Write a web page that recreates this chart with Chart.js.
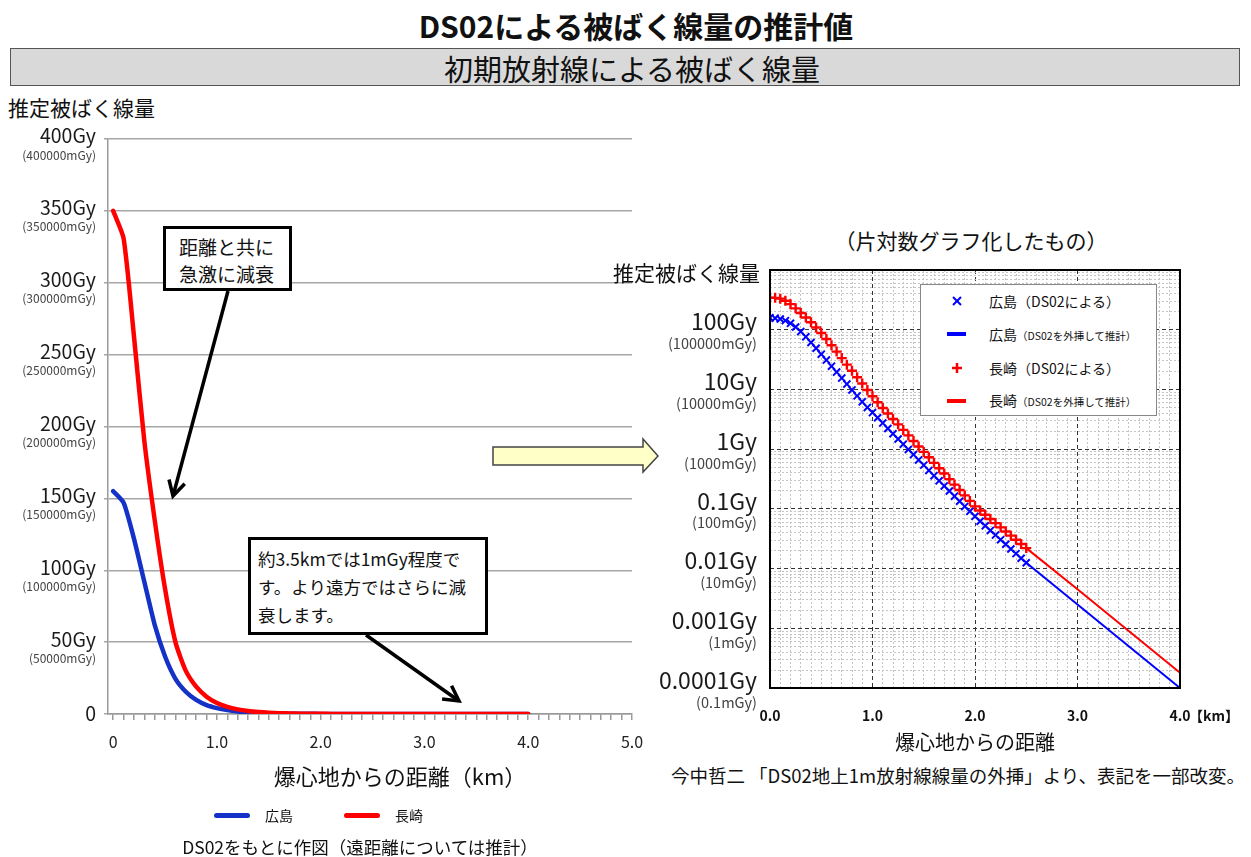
<!DOCTYPE html>
<html lang="ja">
<head>
<meta charset="utf-8">
<title>DS02による被ばく線量の推計値</title>
<script src="https://cdn.jsdelivr.net/npm/chart.js@4.4.1/dist/chart.umd.min.js"></script>
<style>
  html, body { margin: 0; padding: 0; background: #fff; }
  body {
    width: 1251px; height: 857px; position: relative; overflow: hidden;
    font-family: "Noto Sans CJK JP", "Noto Sans", sans-serif; color: #111;
  }
  .t { position: absolute; white-space: nowrap; line-height: 1; }
  .c { transform: translate(-50%, -50%); }
  .l { transform: translate(0, -50%); }
  canvas { position: absolute; }
  #banner {
    position: absolute; left: 10px; top: 48px; width: 1230px; height: 38px;
    box-sizing: border-box; background: #d9d9d9; border: 1.5px solid #555;
  }
  .note {
    position: absolute; box-sizing: border-box; background: #fff;
    border: 3px solid #000; font-size: 19px; line-height: 27px; color: #111;
  }
  .legend-line { position: absolute; height: 5px; border-radius: 3px; }
  #logLegend {
    position: absolute; left: 920px; top: 284px; width: 237px; height: 132px;
    box-sizing: border-box; background: #fff; border: 1px solid #888;
  }
  #overlay { position: absolute; left: 0; top: 0; pointer-events: none; }
</style>
</head>
<body>

<div class="t c" style="left:636px; top:25px; font-size:30px; font-weight:bold;">DS02による被ばく線量の推計値</div>
<div id="banner"></div>
<div class="t c" style="left:632px; top:68px; font-size:29px;">初期放射線による被ばく線量</div>

<div class="t l" style="left:8px; top:107px; font-size:21px;">推定被ばく線量</div>

<canvas id="linChart" width="650" height="640" style="left:0px; top:120px;"></canvas>

<div class="t c" style="left:400px; top:775px; font-size:22px;">爆心地からの距離（km）</div>
<div class="legend-line" style="left:214px; top:813px; width:36px; background:#1432c8;"></div>
<div class="t l" style="left:265px; top:815px; font-size:14px;">広島</div>
<div class="legend-line" style="left:344px; top:813px; width:36px; background:#ff0000;"></div>
<div class="t l" style="left:395px; top:815px; font-size:14px;">長崎</div>
<div class="t c" style="left:360px; top:847px; font-size:17.5px;">DS02をもとに作図（遠距離については推計）</div>

<div class="note" style="left:163px; top:226px; width:129px; height:65px; padding:4px 0 0 13px;">距離と共に<br>急激に減衰</div>
<div class="note" style="left:248px; top:537px; width:240px; height:98px; padding:5px 0 0 7px; font-size:17.5px; line-height:28px;">約3.5kmでは1mGy程度で<br>す。より遠方ではさらに減<br>衰します。</div>

<div class="t c" style="left:971px; top:240px; font-size:21px;">（片対数グラフ化したもの）</div>
<div class="t l" style="left:613px; top:272px; font-size:21px;">推定被ばく線量</div>

<canvas id="logChart" width="640" height="480" style="left:600px; top:250px;"></canvas>

<div id="logLegend"></div>
<div class="t l" style="left:989px; top:301px; font-size:14px;">広島（DS02による）</div>
<div class="t l" style="left:989px; top:334px; font-size:14px;">広島<span style="font-size:10.5px;">（DS02を外挿して推計）</span></div>
<div class="t l" style="left:989px; top:368px; font-size:14px;">長崎（DS02による）</div>
<div class="t l" style="left:989px; top:400px; font-size:14px;">長崎<span style="font-size:10.5px;">（DS02を外挿して推計）</span></div>

<div class="t l" style="left:1189px; top:715px; font-size:14px; font-weight:bold;">【km】</div>
<div class="t c" style="left:975px; top:742px; font-size:20px;">爆心地からの距離</div>
<div class="t c" style="left:958px; top:775px; font-size:18.5px;">今中哲二 「DS02地上1m放射線線量の外挿」より、表記を一部改変。</div>

<svg id="overlay" width="1251" height="857"></svg>

<script>
// ---- data: ground distance (km) and estimated dose (Gy) ----
// linear panel, 0.1 km step
const distLin = [0,0.1,0.2,0.3,0.4,0.5,0.6,0.7,0.8,0.9,1.0,1.1,1.2,1.3,1.4,1.5,1.6,1.7,1.8,1.9,2.0,
                 2.1,2.2,2.3,2.4,2.5,2.6,2.7,2.8,2.9,3.0,3.1,3.2,3.3,3.4,3.5,3.6,3.7,3.8,3.9,4.0];
const hiroshimaLin = [155,147,122,92,62,40,24.5,15.5,9.8,6.2,4.1,2.73,1.81,1.21,0.81,0.54,0.36,0.242,0.163,0.11,0.075,
                      0.052,0.036,0.0255,0.0178,0.0125,0.009,0.0065,0.0047,0.0034,0.0025,0.0018,0.0013,0.00095,0.00069,0.0005,
                      0.00036,0.00026,0.00019,0.00014,0.0001];
const nagasakiLin = [350,331,263,190,135,87,50,30,19,12,7.6,4.9,3.2,2.1,1.37,0.9,0.59,0.39,0.255,0.168,0.11,
                     0.08,0.058,0.042,0.03,0.022,0.016,0.0117,0.0085,0.0062,0.0045,0.0033,0.0024,0.0017,0.0012,0.0009,
                     0.00065,0.00047,0.00034,0.00025,0.00018];

// semi-log panel: DS02 points (0.05 km step) and extrapolated lines
const distDS02 = [0,0.05,0.1,0.15,0.2,0.25,0.3,0.35,0.4,0.45,0.5,0.55,0.6,0.65,0.7,0.75,0.8,0.85,0.9,0.95,1.0,
                  1.05,1.1,1.15,1.2,1.25,1.3,1.35,1.4,1.45,1.5,1.55,1.6,1.65,1.7,1.75,1.8,1.85,1.9,1.95,2.0,
                  2.05,2.1,2.15,2.2,2.25,2.3,2.35,2.4,2.45,2.5];
const hiroshimaDS02 = [158,156,151,142,128,111,93,76,61,49,39,31,24.5,19.5,15.5,12.3,9.8,7.8,6.2,5.0,4.1,
                       3.35,2.73,2.22,1.81,1.48,1.21,0.99,0.81,0.66,0.54,0.44,0.36,0.295,0.242,0.199,0.163,0.134,0.11,0.091,0.075,
                       0.062,0.052,0.0435,0.0364,0.0305,0.0255,0.0213,0.0178,0.0149,0.0125];
const nagasakiDS02 = [345,342,331,305,268,228,190,160,133,109,88,70,55,43,33.5,26,20.5,16,12.6,9.8,7.7,
                      6.1,4.9,3.95,3.2,2.6,2.1,1.7,1.37,1.11,0.9,0.73,0.59,0.48,0.39,0.315,0.255,0.207,0.168,0.136,0.11,
                      0.0936,0.0797,0.0678,0.0577,0.049,0.0418,0.0356,0.0303,0.0258,0.022];
const distExtrap = [2.5,3.0,3.5,4.0];
const hiroshimaExtrap = [0.0125,0.0025,0.0005,0.0001];
const nagasakiExtrap = [0.022,0.0045,0.0009,0.00018];

// tick labels
const linTickGy = [0,50,100,150,200,250,300,350,400];
const linTickMain = ['0','50Gy','100Gy','150Gy','200Gy','250Gy','300Gy','350Gy','400Gy'];
const linTickSub = ['','(50000mGy)','(100000mGy)','(150000mGy)','(200000mGy)','(250000mGy)','(300000mGy)','(350000mGy)','(400000mGy)'];
const logTickGy = [100,10,1,0.1,0.01,0.001,0.0001];
const logTickMain = ['100Gy','10Gy','1Gy','0.1Gy','0.01Gy','0.001Gy','0.0001Gy'];
const logTickSub = ['(100000mGy)','(10000mGy)','(1000mGy)','(100mGy)','(10mGy)','(1mGy)','(0.1mGy)'];
const linKmLabels = [0,1,2,3,4,5];
const logKmLabels = [0,1,2,3,4];

const FONT = '"Noto Sans CJK JP", "Noto Sans", sans-serif';
Chart.defaults.font.family = FONT;
Chart.defaults.color = '#222';

const pts = (xs, ys) => xs.map((x, i) => ({ x, y: ys[i] }));
const tenths = (a, b) => { const out = []; for (let i = Math.round(a * 10); i <= Math.round(b * 10); i++) out.push(i / 10); return out; };
const noSidePadding = s => { s.paddingLeft = 0; s.paddingRight = 0; };

// two-line dose labels beside a y scale
function doseLabels(id, values, main, sub, xRight, mainFont, subFont, dMain, dSub) {
  return {
    id,
    afterDraw(chart) {
      const { ctx } = chart;
      const y = chart.scales.y;
      ctx.save();
      ctx.textAlign = 'right';
      ctx.textBaseline = 'middle';
      values.forEach((v, i) => {
        const py = y.getPixelForValue(v);
        ctx.fillStyle = '#1a1a1a';
        ctx.font = mainFont;
        ctx.fillText(main[i], xRight, sub[i] ? py + dMain : py);
        if (sub[i]) {
          ctx.fillStyle = '#444';
          ctx.font = subFont;
          ctx.fillText(sub[i], xRight, py + dSub);
        }
      });
      ctx.restore();
    }
  };
}

// ---- linear panel ----
new Chart(document.getElementById('linChart'), {
  type: 'line',
  data: {
    datasets: [
      { label: '長崎', data: pts(distLin, nagasakiLin), borderColor: '#ff0000', borderWidth: 4.5,
        pointRadius: 0, tension: 0.2, borderCapStyle: 'round', borderJoinStyle: 'round' },
      { label: '広島', data: pts(distLin, hiroshimaLin), borderColor: '#1432c8', borderWidth: 4.5,
        pointRadius: 0, tension: 0.2, borderCapStyle: 'round', borderJoinStyle: 'round' }
    ]
  },
  options: {
    responsive: false, animation: false, devicePixelRatio: 1,
    layout: { padding: { top: 19, right: 18, left: 0, bottom: 0 } },
    plugins: { legend: { display: false }, tooltip: { enabled: false } },
    scales: {
      x: {
        type: 'linear', min: -0.05, max: 5.0,
        afterBuildTicks: s => { s.ticks = tenths(0, 5).map(v => ({ value: v })); },
        ticks: {
          autoSkip: false, maxRotation: 0, padding: 12, color: '#222', font: { size: 16 },
          callback: v => linKmLabels.includes(v) ? (v === 0 ? '0' : v.toFixed(1)) : ''
        },
        grid: { drawOnChartArea: false, drawTicks: true, tickLength: 6, color: '#9a9a9a', lineWidth: 1.5 },
        border: { color: '#9a9a9a', width: 1.5 },
        afterFit: s => { s.height = 46; noSidePadding(s); }
      },
      y: {
        min: 0, max: 400,
        afterBuildTicks: s => { s.ticks = linTickGy.map(v => ({ value: v })); },
        ticks: { display: false },
        grid: { color: '#a6a6a6', lineWidth: 1.5, drawTicks: true, tickLength: 4 },
        border: { color: '#9a9a9a', width: 1.5 },
        afterFit: s => { s.width = 108; }
      }
    }
  },
  plugins: [doseLabels('linDose', linTickGy, linTickMain, linTickSub, 96,
    '19.5px ' + FONT, '12px ' + FONT, -3, 16)]
});

// ---- semi-log panel ----
const frame = {
  id: 'frame',
  afterDatasetsDraw(chart) {
    const { ctx, chartArea: a } = chart;
    ctx.save();
    ctx.strokeStyle = '#000';
    ctx.lineWidth = 2;
    ctx.strokeRect(a.left, a.top, a.right - a.left, a.bottom - a.top);
    ctx.restore();
  }
};

const logTicks = [];
for (let e = -4; e <= 2; e++) for (let k = 1; k <= 9; k++) logTicks.push(Number((k * Math.pow(10, e)).toPrecision(2)));
logTicks.push(1000);
const isDecade = v => Math.abs(Math.log10(v) - Math.round(Math.log10(v))) < 1e-9;
const isWholeKm = v => Math.abs(v - Math.round(v)) < 1e-9;

new Chart(document.getElementById('logChart'), {
  type: 'line',
  data: {
    datasets: [
      { label: '長崎（DS02による）', data: pts(distDS02, nagasakiDS02), showLine: false,
        pointStyle: 'cross', pointRadius: 5, borderColor: '#ff0000', borderWidth: 2.4, order: 1 },
      { label: '長崎（DS02を外挿して推計）', data: pts(distExtrap, nagasakiExtrap), borderColor: '#ff0000',
        borderWidth: 2, pointRadius: 0, order: 2 },
      { label: '広島（DS02による）', data: pts(distDS02, hiroshimaDS02), showLine: false,
        pointStyle: 'crossRot', pointRadius: 5, borderColor: '#0000ff', borderWidth: 2, order: 3 },
      { label: '広島（DS02を外挿して推計）', data: pts(distExtrap, hiroshimaExtrap), borderColor: '#0000ff',
        borderWidth: 2, pointRadius: 0, order: 4 }
    ]
  },
  options: {
    responsive: false, animation: false, devicePixelRatio: 1,
    layout: { padding: { top: 20, right: 60, left: 0, bottom: 0 } },
    plugins: { legend: { display: false }, tooltip: { enabled: false } },
    scales: {
      x: {
        type: 'linear', min: 0, max: 4,
        afterBuildTicks: s => { s.ticks = tenths(0, 4).map(v => ({ value: v })); },
        ticks: {
          autoSkip: false, maxRotation: 0, padding: 19, color: '#111', font: { size: 14, weight: 'bold' },
          callback: v => logKmLabels.includes(v) ? v.toFixed(1) : ''
        },
        grid: {
          drawTicks: false, lineWidth: 1,
          color: c => (c.tick && isWholeKm(c.tick.value)) ? '#333' : '#c4c4c4'
        },
        border: { display: false, dash: c => (c.tick && isWholeKm(c.tick.value)) ? [4, 3] : [2, 2] },
        afterFit: s => { s.height = 42; noSidePadding(s); }
      },
      y: {
        type: 'logarithmic', min: 0.0001, max: 1000,
        afterBuildTicks: s => { s.ticks = logTicks.map(v => ({ value: v })); },
        ticks: { display: false },
        grid: {
          drawTicks: false, lineWidth: 1,
          color: c => (c.tick && isDecade(c.tick.value)) ? '#333' : '#c4c4c4'
        },
        border: { display: false, dash: c => (c.tick && isDecade(c.tick.value)) ? [4, 3] : [2, 2] },
        afterFit: s => { s.width = 170; }
      }
    }
  },
  plugins: [frame, doseLabels('logDose', logTickGy, logTickMain, logTickSub, 157,
    '23px ' + FONT, '14.5px ' + FONT, -8, 14)]
});

// ---- overlay: callout arrows, legend symbols and the connecting block arrow ----
const svg = document.getElementById('overlay');
const NS = 'http://www.w3.org/2000/svg';
function el(name, attrs) {
  const e = document.createElementNS(NS, name);
  for (const k in attrs) e.setAttribute(k, attrs[k]);
  svg.appendChild(e);
  return e;
}
function arrow(x1, y1, x2, y2) {
  const ang = Math.atan2(y2 - y1, x2 - x1), len = 17, spread = 0.5;
  el('line', { x1, y1, x2, y2, stroke: '#000', 'stroke-width': 3.5 });
  const p = [ang + Math.PI - spread, ang + Math.PI + spread].map(a => `${x2 + len * Math.cos(a)},${y2 + len * Math.sin(a)}`);
  el('polyline', { points: `${p[0]} ${x2},${y2} ${p[1]}`, fill: 'none', stroke: '#000', 'stroke-width': 3.5,
    'stroke-linejoin': 'miter' });
}
arrow(228, 291, 173, 496);
arrow(366, 635, 459, 701);

el('polygon', { points: '493,447 643,447 643,439 658,456 643,472 643,465 493,465',
  fill: '#ffffc8', stroke: '#444', 'stroke-width': 1.5 });

// legend symbols of the semi-log panel
el('line', { x1: 953, y1: 297, x2: 961, y2: 305, stroke: '#0000ff', 'stroke-width': 2 });
el('line', { x1: 961, y1: 297, x2: 953, y2: 305, stroke: '#0000ff', 'stroke-width': 2 });
el('line', { x1: 947, y1: 334, x2: 966, y2: 334, stroke: '#0000ff', 'stroke-width': 4 });
el('line', { x1: 957, y1: 363, x2: 957, y2: 373, stroke: '#ff0000', 'stroke-width': 2.5 });
el('line', { x1: 952, y1: 368, x2: 962, y2: 368, stroke: '#ff0000', 'stroke-width': 2.5 });
el('line', { x1: 947, y1: 401, x2: 966, y2: 401, stroke: '#ff0000', 'stroke-width': 4 });
</script>
</body>
</html>
